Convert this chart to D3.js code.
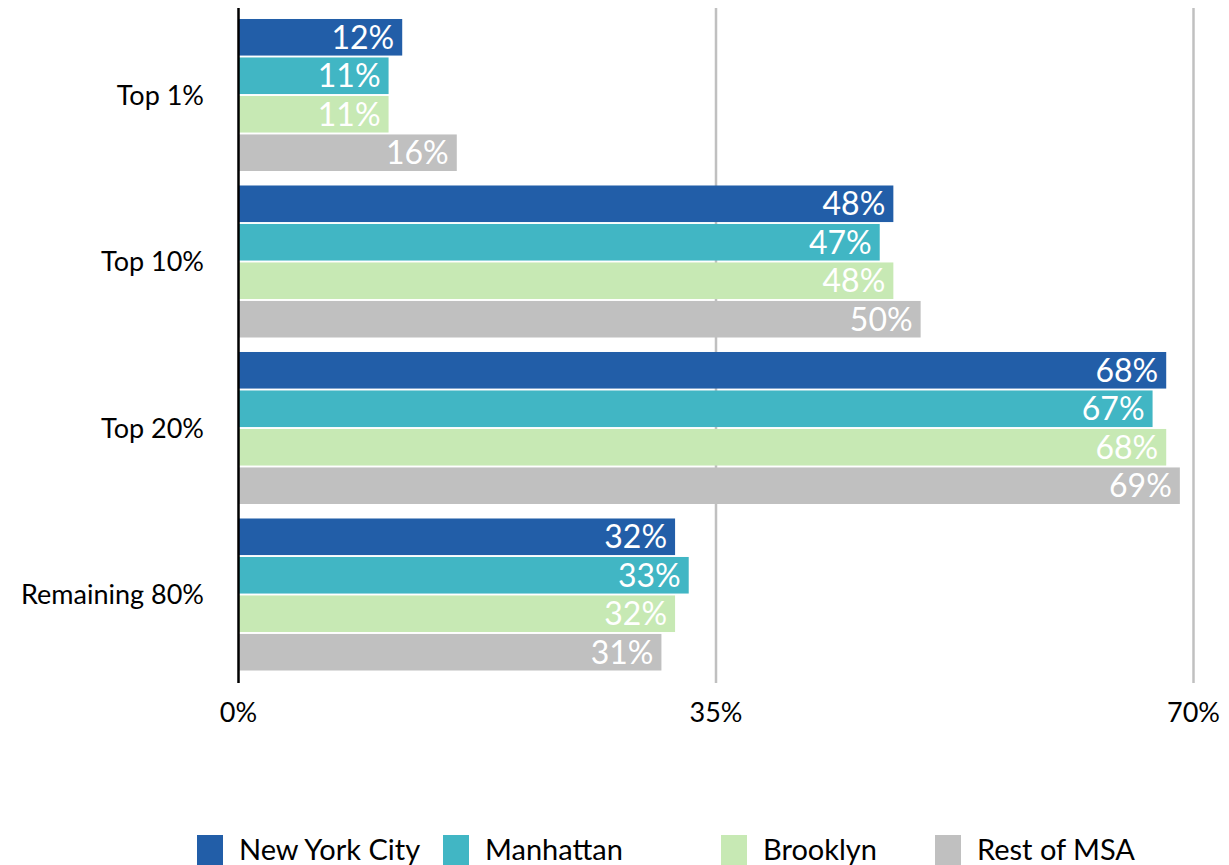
<!DOCTYPE html>
<html>
<head>
<meta charset="utf-8">
<style>
  body { margin: 0; background: #fff; }
  svg { font-family: Lato, "Open Sans", sans-serif; }
</style>
</head>
<body>
<script src="https://d3js.org/d3.v7.min.js"></script>
<svg width="1229" height="865"></svg>
<script>
var categories = ["Top 1%", "Top 10%", "Top 20%", "Remaining 80%"];
var series = ["New York City", "Manhattan", "Brooklyn", "Rest of MSA"];
var nycValues = [12, 48, 68, 32];
var manhattanValues = [11, 47, 67, 33];
var brooklynValues = [11, 48, 68, 32];
var restValues = [16, 50, 69, 31];
var xTicks = [0, 35, 70];
var colors = ["#225ea8", "#41b6c4", "#c7e9b4", "#c0c0c0"];

var valuesBySeries = [nycValues, manhattanValues, brooklynValues, restValues];

var svg = d3.select("svg");

var x = d3.scaleLinear().domain([0, 70]).range([238.5, 1193.5]);
var y0 = d3.scaleBand().domain(categories).range([11.5, 678]).paddingInner(0.087).paddingOuter(0.045);
var y1 = d3.scaleBand().domain(series).range([0, y0.bandwidth()]).paddingInner(0.05);
var color = d3.scaleOrdinal().domain(series).range(colors);

// gridlines
svg.selectAll("line.grid")
    .data(xTicks.filter(d => d > 0))
    .enter().append("line")
    .attr("x1", d => x(d)).attr("x2", d => x(d))
    .attr("y1", 8).attr("y2", 683)
    .attr("stroke", "#c0c0c0")
    .attr("stroke-width", 2.5);

var rows = [];
categories.forEach(function(c, i) {
    series.forEach(function(s, j) {
        rows.push({cat: c, ser: s, val: valuesBySeries[j][i]});
    });
});

svg.selectAll("rect.bar")
    .data(rows)
    .enter().append("rect")
    .attr("x", x(0))
    .attr("y", d => y0(d.cat) + y1(d.ser))
    .attr("width", d => x(d.val) - x(0))
    .attr("height", y1.bandwidth())
    .attr("fill", d => color(d.ser));

svg.selectAll("text.val")
    .data(rows)
    .enter().append("text")
    .attr("x", d => x(d.val) - 8)
    .attr("y", d => y0(d.cat) + y1(d.ser) + y1.bandwidth() / 2)
    .attr("dy", "0.36em")
    .attr("text-anchor", "end")
    .attr("fill", "#fff")
    .attr("font-size", 32)
    .text(d => d.val + "%");

// axis line at 0
svg.append("line")
    .attr("x1", x(0)).attr("x2", x(0))
    .attr("y1", 8).attr("y2", 683)
    .attr("stroke", "#000")
    .attr("stroke-width", 2.5);

// category labels
svg.selectAll("text.cat")
    .data(categories)
    .enter().append("text")
    .attr("x", 204)
    .attr("y", d => y0(d) + y0.bandwidth() / 2)
    .attr("dy", "0.36em")
    .attr("text-anchor", "end")
    .attr("font-size", 27)
    .attr("fill", "#000")
    .text(d => d);

// x tick labels
svg.selectAll("text.tick")
    .data(xTicks)
    .enter().append("text")
    .attr("x", d => x(d))
    .attr("y", 722)
    .attr("text-anchor", "middle")
    .attr("font-size", 27)
    .attr("fill", "#000")
    .text(d => d + "%");

// legend
var legendX = [197, 443, 721, 935];
var legend = svg.selectAll("g.legend")
    .data(series)
    .enter().append("g")
    .attr("transform", (d, i) => "translate(" + legendX[i] + ",835)");
legend.append("rect")
    .attr("width", 26).attr("height", 32)
    .attr("fill", d => color(d));
legend.append("text")
    .attr("x", 42)
    .attr("y", 25)
    .attr("font-size", 29)
    .attr("fill", "#000")
    .text(d => d);
</script>
</body>
</html>
